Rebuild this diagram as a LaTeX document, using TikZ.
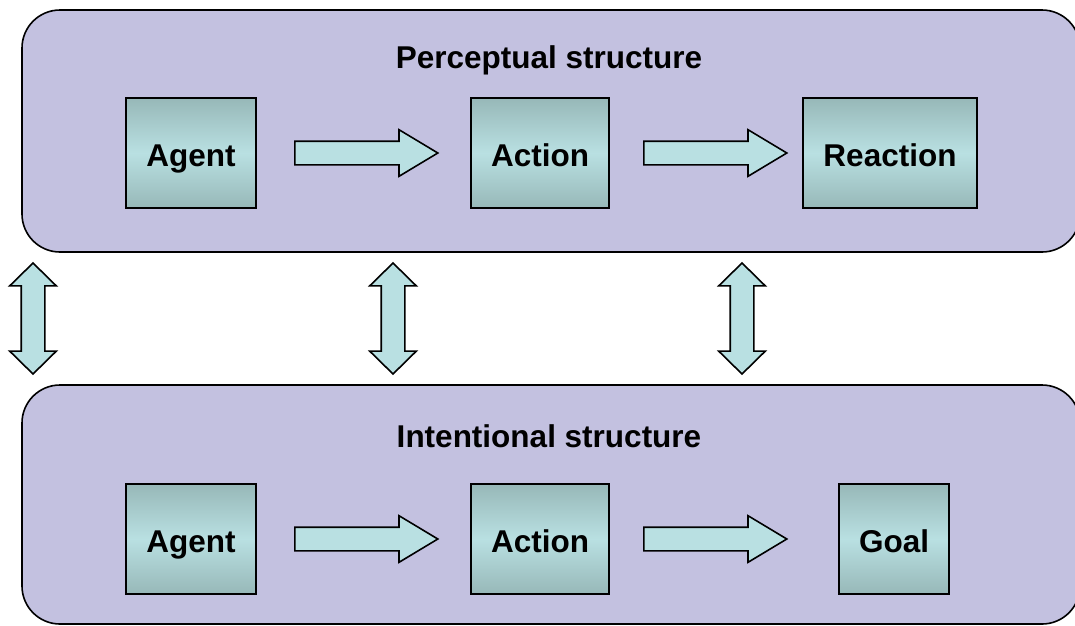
\documentclass[tikz,border=0pt]{standalone}
\usepackage{fontspec}
\setmainfont{Liberation Sans}
\usetikzlibrary{shapes.arrows}
\definecolor{panelfill}{RGB}{195,193,224}
\definecolor{boxedge}{RGB}{151,184,184}
\definecolor{boxmid}{RGB}{185,224,226}
\definecolor{arrowfill}{RGB}{185,224,226}
\tikzset{
  panel/.style={draw=black, line width=1.6pt, fill=panelfill, rounded corners=38pt},
  title/.style={font=\fontsize{31.5}{36}\selectfont\bfseries},
  stepbox/.style={draw=black, line width=1.6pt, minimum height=110pt,
    top color=boxedge, bottom color=boxedge, middle color=boxmid,
    font=\fontsize{31.5}{36}\selectfont\bfseries, inner sep=0pt,
    text height=27pt, text depth=0pt},
  flowarrow/.style={single arrow, draw=black, line width=1.6pt, fill=arrowfill,
    minimum height=143pt, minimum width=45pt, inner xsep=0pt, inner ysep=11pt,
    single arrow head extend=11.5pt, single arrow tip angle=62, anchor=tail},
  linkarrow/.style={double arrow, draw=black, line width=1.6pt, fill=arrowfill,
    rotate=90, minimum height=111pt, minimum width=45pt, inner xsep=0pt, inner ysep=11pt,
    double arrow head extend=11.5pt, double arrow tip angle=91}
}
\begin{document}
\begin{tikzpicture}[x=1pt, y=-1pt]
  \useasboundingbox (0,0) rectangle (1075,625);
  % the two structure panels
  \draw[panel] (22,10) rectangle (1080,252);
  \draw[panel] (22,385) rectangle (1080,624);
  \node[title] (ptitle) at (549,60) {Perceptual structure};
  \node[title] (ititle) at (549,436) {Intentional structure};
  % perceptual row
  \node[stepbox, minimum width=130pt] (pagent) at (191,153) {Agent};
  \node[stepbox, minimum width=138pt] (paction) at (540,153) {Action};
  \node[stepbox, minimum width=174pt] (preact) at (890,153) {Reaction};
  % intentional row
  \node[stepbox, minimum width=130pt] (iagent) at (191,539) {Agent};
  \node[stepbox, minimum width=138pt] (iaction) at (540,539) {Action};
  \node[stepbox, minimum width=110pt] (igoal) at (894,539) {Goal};
  % flow arrows between the steps
  \node[flowarrow] (pa1) at (294,153) {};
  \node[flowarrow] (pa2) at (643,153) {};
  \node[flowarrow] (ia1) at (294,539) {};
  \node[flowarrow] (ia2) at (643,539) {};
  % links between the two structures
  \node[linkarrow] (l1) at (33,318.5) {};
  \node[linkarrow] (l2) at (393,318.5) {};
  \node[linkarrow] (l3) at (742,318.5) {};
\end{tikzpicture}
\end{document}
